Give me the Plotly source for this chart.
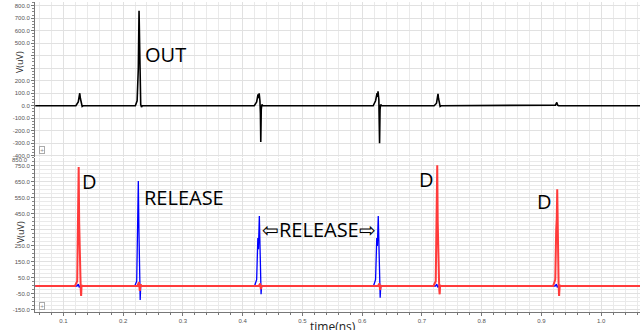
import plotly.graph_objects as go
from plotly.subplots import make_subplots

# ---- data (time in ns, voltage in uV) ----
OUT_T = [0.053, 0.1210, 0.1250, 0.1275, 0.1285, 0.1300, 0.1315, 0.1330,
         0.2205, 0.2235, 0.2255, 0.2267, 0.2275, 0.2285, 0.2295, 0.2308, 0.2322,
         0.4195, 0.4235, 0.4258, 0.4268, 0.4277, 0.4290, 0.4298, 0.4304, 0.4312, 0.4322, 0.4340,
         0.6185, 0.6225, 0.6250, 0.6258, 0.6266, 0.6280, 0.6287, 0.6292, 0.6300, 0.6310, 0.6330,
         0.7205, 0.7245, 0.7270, 0.7278, 0.7290, 0.7305, 0.7320,
         0.9195, 0.9235, 0.9258, 0.9272, 0.9290,
         1.065]
OUT_V = [0, 0, 30, 100, 60, 10, -5, 0,
         0, 40, 300, 760, 500, 80, 10, -10, 0,
         0, 30, 90, 60, 100, 40, -60, -290, -30, 10, 0,
         0, 40, 100, 70, 115, 50, -80, -300, -30, 10, 0,
         0, 20, 95, 60, 10, -5, 0,
         0, 5, 27, 5, 0,
         0]

D_T = [0.053, 0.1195, 0.1232, 0.1246, 0.1257, 0.1265, 0.1272, 0.1279, 0.1286, 0.1292, 0.1298, 0.1305, 0.1315,
       0.2240, 0.2265, 0.2280, 0.2295, 0.2310,
       0.4270, 0.4295, 0.4305, 0.4320,
       0.6265, 0.6290, 0.6300, 0.6315,
       0.7195, 0.7232, 0.7246, 0.7257, 0.7265, 0.7272, 0.7279, 0.7286, 0.7292, 0.7298, 0.7305, 0.7315,
       0.9195, 0.9232, 0.9248, 0.9257, 0.9265, 0.9272, 0.9280, 0.9288, 0.9296, 0.9306, 0.9320,
       1.065]
D_V = [0, 0, 30, 580, 744, 400, 120, 150, 60, -30, -62, 5, 0,
       0, 25, -30, 10, 0,
       0, 15, -20, 0,
       0, 15, -25, 0,
       0, 30, 600, 754, 400, 120, 148, 50, -30, -52, 5, 0,
       0, 40, 355, 420, 604, 250, 60, 10, -62, 5, 0,
       0]

REL_T = [0.053, 0.1230, 0.1250, 0.1265, 0.1280,
         0.2195, 0.2228, 0.2244, 0.2255, 0.2265, 0.2272, 0.2280, 0.2286, 0.2295, 0.2310,
         0.4200, 0.4235, 0.4255, 0.4265, 0.4280, 0.4292, 0.4300, 0.4309, 0.4318, 0.4330,
         0.6190, 0.6225, 0.6245, 0.6255, 0.6270, 0.6282, 0.6292, 0.6302, 0.6312, 0.6322,
         0.7230, 0.7250, 0.7265, 0.7280,
         0.9230, 0.9250, 0.9265, 0.9280,
         1.065]
REL_V = [0, 0, 12, -8, 0,
         0, 30, 300, 656, 350, 60, 10, -88, 5, 0,
         0, 40, 300, 230, 437, 150, 20, -52, 5, 0,
         0, 40, 300, 250, 437, 150, 20, -73, 5, 0,
         0, 12, -8, 0,
         0, 12, -8, 0,
         0]

X_TICKS = [0.1, 0.2, 0.3, 0.4, 0.5, 0.6, 0.7, 0.8, 0.9, 1.0]
TOP_YTICKS = [-400, -300, -200, -100, 0, 100, 200, 300, 400, 500, 600, 700, 800]
TOP_HIDDEN = [300, 400]
BOT_YTICKS = [-150, -50, 50, 150, 250, 350, 450, 550, 650, 750]
BOT_HIDDEN = [350]

fig = make_subplots(rows=2, cols=1, shared_xaxes=True)

fig.add_trace(go.Scatter(x=OUT_T, y=OUT_V, mode="lines",
                         line=dict(color="#000000", width=1.6), showlegend=False), row=1, col=1)
fig.add_trace(go.Scatter(x=REL_T, y=REL_V, mode="lines",
                         line=dict(color="#0000ff", width=1.3), showlegend=False), row=2, col=1)
fig.add_trace(go.Scatter(x=D_T, y=D_V, mode="lines",
                         line=dict(color="#ff3b3b", width=2.0), showlegend=False), row=2, col=1)

grid = "#e1e1e1"
tickfont = dict(family="Liberation Sans", size=6, color="#555555")

xcommon = dict(range=[0.0526, 1.065], showgrid=True, gridcolor=grid, gridwidth=1,
               zeroline=False, tickvals=X_TICKS,
               minor=dict(dtick=0.02, tick0=0, showgrid=True, gridcolor="#eaeaea",
                          ticks="outside", ticklen=2, tickcolor="#777"))
fig.update_xaxes(**xcommon)
fig.update_xaxes(showticklabels=False, row=1, col=1)
fig.update_xaxes(showticklabels=True, ticktext=[f"{v:.1f}" for v in X_TICKS],
                 tickfont=tickfont, ticks="outside", ticklen=3, tickcolor="#777",
                 showline=True, linecolor="#777", linewidth=1, row=2, col=1)

fig.update_yaxes(row=1, col=1, domain=[0.4968, 0.9936], range=[-410, 830],
                 tickvals=TOP_YTICKS,
                 ticktext=["" if v in TOP_HIDDEN else f"{v:.1f}" for v in TOP_YTICKS],
                 tickfont=tickfont, showgrid=True, gridcolor=grid, zeroline=False,
                 showline=True, linecolor="#777", ticks="outside", ticklen=3, tickcolor="#777",
                 minor=dict(dtick=25, ticks="outside", ticklen=2, tickcolor="#888", showgrid=False))
fig.update_yaxes(row=2, col=1, domain=[0.0, 0.4936], range=[-162.5, 800],
                 tickvals=BOT_YTICKS,
                 ticktext=["" if v in BOT_HIDDEN else f"{v:.1f}" for v in BOT_YTICKS],
                 tickfont=tickfont, showgrid=True, gridcolor=grid, zeroline=False,
                 showline=True, linecolor="#777", ticks="outside", ticklen=3, tickcolor="#777",
                 minor=dict(dtick=25, tick0=0, ticks="outside", ticklen=2, tickcolor="#888",
                            showgrid=True, gridcolor="#eaeaea"))

lbl = dict(family="Open Sans", size=20, color="#000000")
ann = [
    dict(x=0.271, y=411, xref="x", yref="y", text="OUT"),
    dict(x=0.143, y=654, xref="x2", yref="y2", text="D"),
    dict(x=0.3025, y=556, xref="x2", yref="y2", text="RELEASE"),
    dict(x=0.5285, y=350, xref="x2", yref="y2", text="⇦RELEASE⇨"),
    dict(x=0.708, y=667, xref="x2", yref="y2", text="D"),
    dict(x=0.906, y=526, xref="x2", yref="y2", text="D"),
]
for a in ann:
    fig.add_annotation(**a, showarrow=False, font=lbl, xanchor="center", yanchor="middle")

# axis titles
vfont = dict(family="Open Sans", size=9, color="#222")
fig.add_annotation(x=-15 / 605, y=(312 - 62) / 312, xref="paper", yref="paper", text="V(uV)",
                   textangle=-90, showarrow=False, font=vfont, borderpad=0,
                   xanchor="center", yanchor="middle")
fig.add_annotation(x=-15 / 605, y=(312 - 232) / 312, xref="paper", yref="paper", text="V(uV)",
                   textangle=-90, showarrow=False, font=vfont, borderpad=0,
                   xanchor="center", yanchor="middle")
fig.add_annotation(x=0.4926, y=-14 / 312, xref="paper", yref="paper", text="time(ns)",
                   showarrow=False, yanchor="middle", font=dict(family="Open Sans", size=12, color="#222"))
fig.add_annotation(x=-5 / 605, y=(312 - 160) / 312, xref="paper", yref="paper", text="850.0",
                   showarrow=False, xanchor="right", yanchor="middle", font=tickfont)
# small panel markers
for yy in [0.5064, 0.0064]:
    fig.add_annotation(x=4 / 605, y=yy, xref="paper", yref="paper", text="+",
                       showarrow=False, xanchor="left", yanchor="bottom",
                       font=dict(family="DejaVu Sans", size=5, color="#888"),
                       bordercolor="#aaaaaa", borderwidth=1, borderpad=0, bgcolor="#ffffff")

fig.update_layout(width=644, height=330, margin=dict(l=35, r=4, t=0, b=18),
                  plot_bgcolor="#ffffff", paper_bgcolor="#ffffff")

fig.write_html("out.html")
